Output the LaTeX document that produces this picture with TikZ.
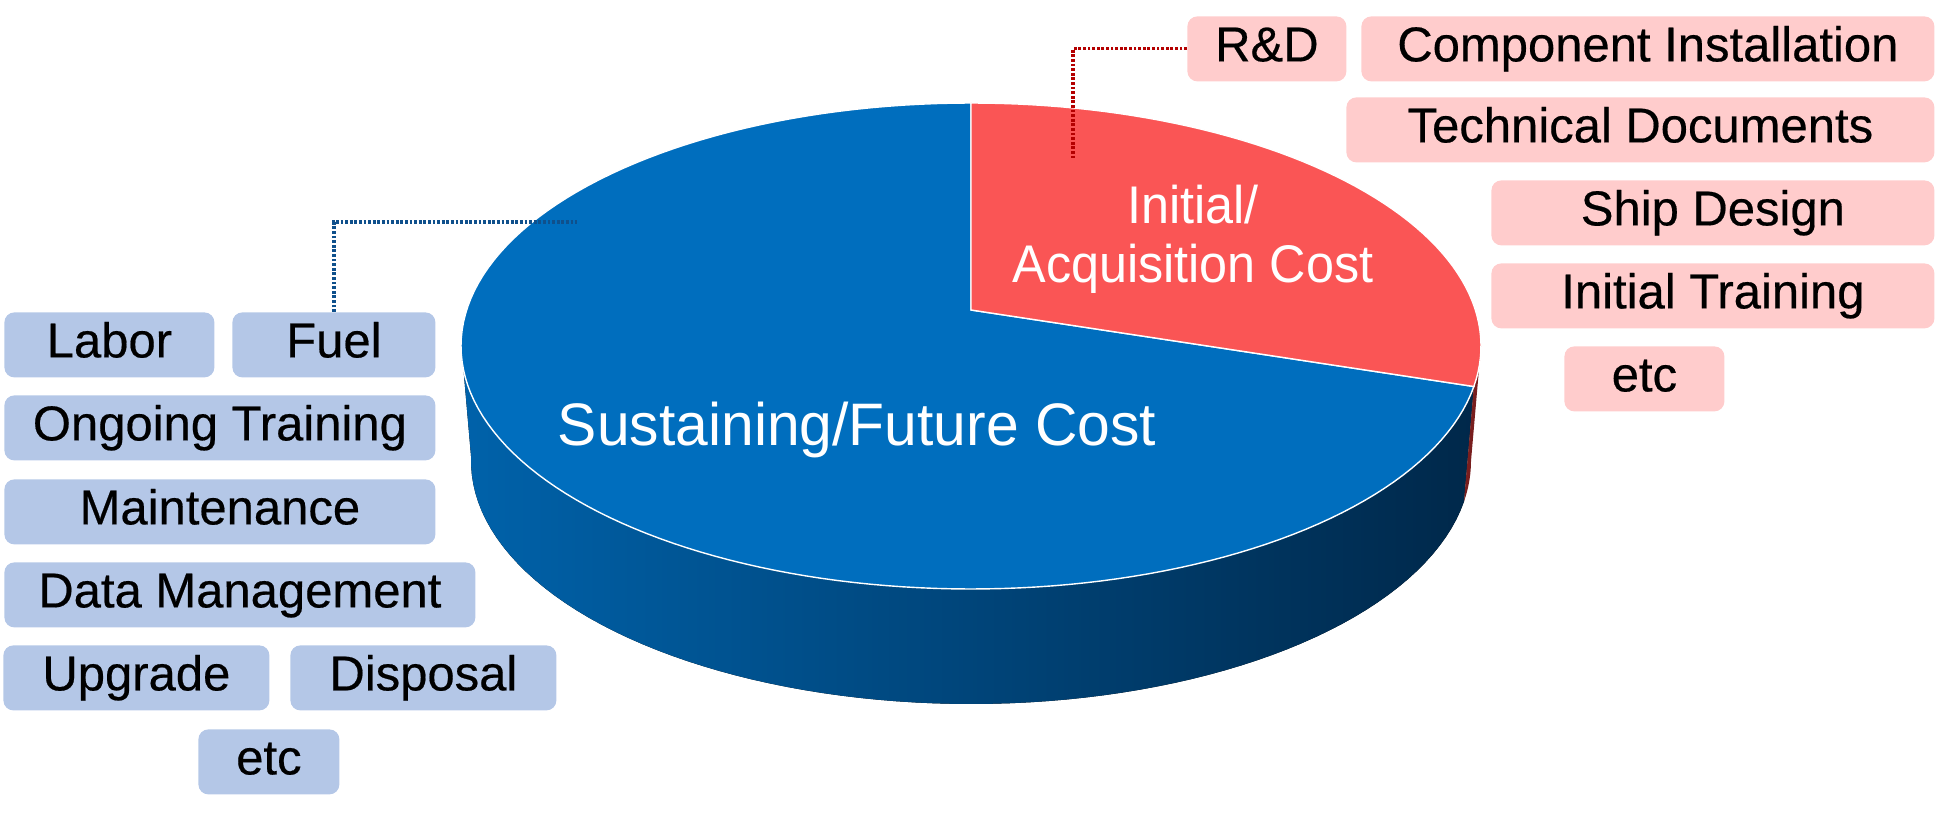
\documentclass[tikz,border=0pt]{standalone}
\usepackage{fontspec}
\setmainfont{Liberation Sans}
\newfontfamily\boxfont{Liberation Sans}[FakeBold=0.4]
\newfontfamily\slicefont{Liberation Sans}[FakeStretch=0.98]
\newfontfamily\slicenarrow{Liberation Sans}[FakeStretch=0.95]
\usepackage{tikz}
\usetikzlibrary{calc}
\definecolor{topblue}{RGB}{0,110,190}
\definecolor{topred}{RGB}{250,85,85}
\definecolor{sideleft}{RGB}{0,98,170}
\definecolor{sidemid}{RGB}{0,68,122}
\definecolor{sideright}{RGB}{0,40,74}
\definecolor{sidered}{RGB}{120,30,30}
\definecolor{boxblue}{RGB}{180,199,231}
\definecolor{boxpink}{RGB}{255,204,204}
\definecolor{dotblue}{RGB}{15,80,140}
\definecolor{dotred}{RGB}{180,0,0}
\tikzstyle{costbox} = [rounded corners=5pt,inner xsep=0pt,inner ysep=0pt,text height=22.5pt,text depth=10pt,anchor=north west,font=\boxfont\fontsize{24.5}{29}\selectfont]
\tikzstyle{sustbox} = [costbox,fill=boxblue]
\tikzstyle{initbox} = [costbox,fill=boxpink]
\tikzstyle{leader} = [line width=1.6pt,dash pattern=on 1.4pt off 0.9pt]
\tikzstyle{pielabel} = [text=white,anchor=base,inner sep=0pt]

\begin{document}
\begin{tikzpicture}[x=0.5pt,y=-0.5pt]
\useasboundingbox (0,0) rectangle (1937,833);

% side of the pie
\fill[left color=sideleft,middle color=sidemid,right color=sideright]
  plot[domain=9.6:181,samples=80,variable=\t] ({971+510*cos(\t)},{346+243*sin(\t)})
  -- plot[domain=9.6:181,samples=80,variable=\t] ({971+500*cos(190.6-\t)},{461+243*sin(190.6-\t)}) -- cycle;
\fill[sidered]
  plot[domain=0:9.6,samples=10,variable=\t] ({971+510*cos(\t)},{346+243*sin(\t)})
  -- plot[domain=0:9.6,samples=10,variable=\t] ({971+500*cos(9.6-\t)},{461+243*sin(9.6-\t)}) -- cycle;

% top of the pie
\coordinate (apex) at (971,310);
\filldraw[fill=topblue,draw=white,line width=0.7pt] (apex)
  -- plot[domain=9.6:270,samples=140,variable=\t] ({971+510*cos(\t)},{346+243*sin(\t)}) -- cycle;
\filldraw[fill=topred,draw=white,line width=0.7pt] (apex)
  -- plot[domain=-90:9.6,samples=60,variable=\t] ({971+510*cos(\t)},{346+243*sin(\t)}) -- cycle;

\node[pielabel,font=\slicefont\fontsize{30}{36}\selectfont] (sustlabel) at (857,446) {Sustaining/Future Cost};
\node[pielabel,font=\slicenarrow\fontsize{26.5}{32}\selectfont] (initlabel) at (1193,224) {Initial/};
\node[pielabel,font=\slicenarrow\fontsize{26.5}{32}\selectfont] (acqlabel) at (1193,283) {Acquisition Cost};

% sustaining cost items
\node[sustbox,minimum width=105pt] (labor) at (4,312) {Labor};
\node[sustbox,minimum width=101.5pt] (fuel) at (232,312) {Fuel};
\node[sustbox,minimum width=215.5pt] (ongoing) at (4,395) {Ongoing Training};
\node[sustbox,minimum width=215.5pt] (maint) at (4,479) {Maintenance};
\node[sustbox,minimum width=235.5pt] (datamgmt) at (4,562) {Data Management};
\node[sustbox,minimum width=133pt] (upgrade) at (3,645) {Upgrade};
\node[sustbox,minimum width=133pt] (disposal) at (290,645) {Disposal};
\node[sustbox,minimum width=70.5pt] (sustetc) at (198,729) {etc};

% initial cost items
\node[initbox,minimum width=79.5pt] (rnd) at (1187,16) {R\&D};
\node[initbox,minimum width=286.5pt] (component) at (1361,16) {Component Installation};
\node[initbox,minimum width=294pt] (techdocs) at (1346,97) {Technical Documents};
\node[initbox,minimum width=221.5pt] (shipdesign) at (1491,180) {Ship Design};
\node[initbox,minimum width=221.5pt] (inittrain) at (1491,263) {Initial Training};
\node[initbox,minimum width=80pt] (initetc) at (1564,346) {etc};

% leaders
\coordinate (sustend) at (577,222);
\coordinate (initend) at (1073,158);
\draw[leader,dotblue] (fuel.north) |- (sustend);
\draw[leader,dotred] (rnd.west) -| (initend);
\end{tikzpicture}
\end{document}
